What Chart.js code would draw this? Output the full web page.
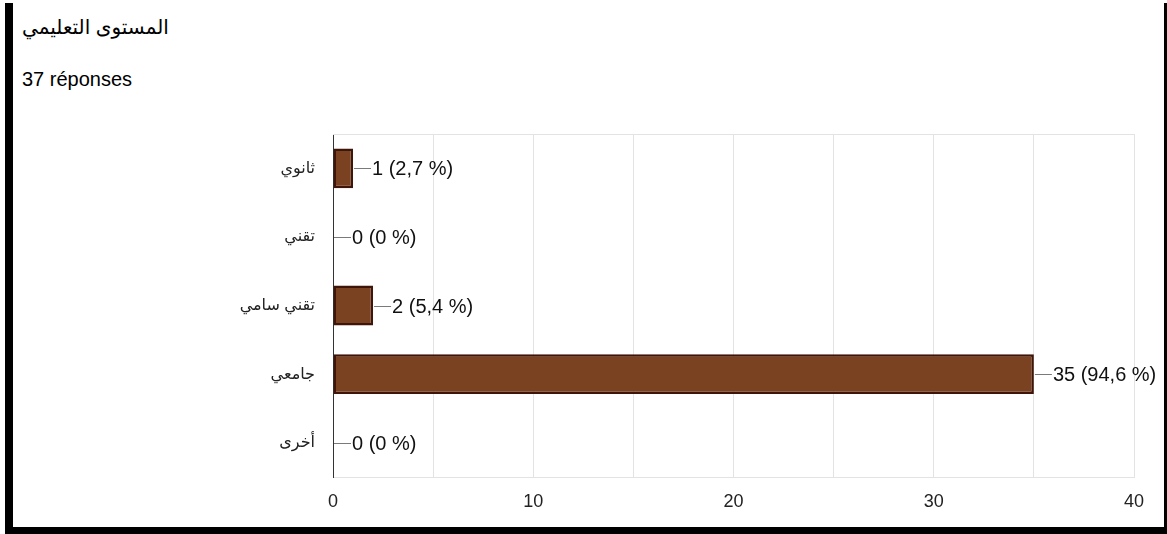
<!DOCTYPE html>
<html>
<head>
<meta charset="utf-8">
<script src="https://cdn.jsdelivr.net/npm/chart.js@4"></script>
<style>
  html, body { margin: 0; padding: 0; background: #fff; }
  body { width: 1167px; height: 534px; position: relative; overflow: hidden; font-family: "Liberation Sans", Arial, "DejaVu Sans", sans-serif; }
  #frame { position: absolute; left: 5px; top: 3px; width: 1151px; height: 524px;
           border-left: 8px solid #000; border-right: 3px solid #000; border-bottom: 7px solid #000; }
  #title { position: absolute; left: 22px; top: 15px; font-size: 20px; color: #000; direction: rtl; }
  #sub { position: absolute; left: 22px; top: 68px; font-size: 20px; color: #000; }
  #chart { position: absolute; left: 0; top: 0; }
</style>
</head>
<body>
<div id="frame"></div>
<div id="title">المستوى التعليمي</div>
<div id="sub">37 réponses</div>
<canvas id="chart" width="1167" height="534"></canvas>
<script>
// Education level answers
const levels = ['ثانوي', 'تقني', 'تقني سامي', 'جامعي', 'أخرى'];
const counts = [1, 0, 2, 35, 0];
const xTicks = [0, 10, 20, 30, 40];
const responses = 37;

const FONT = '"Liberation Sans", Arial, "DejaVu Sans", sans-serif';

function pctText(v) {
    if (v === 0) return '0';
    return (v / responses * 100).toFixed(1).replace('.', ',');
}

// leader line + "n (p %)" to the right of each bar
const barLabels = {
    id: 'barLabels',
    afterDatasetsDraw(chart) {
        const ctx = chart.ctx;
        const meta = chart.getDatasetMeta(0);
        ctx.save();
        ctx.font = '20px ' + FONT;
        ctx.textBaseline = 'middle';
        ctx.textAlign = 'left';
        meta.data.forEach((bar, i) => {
            const v = counts[i];
            const x0 = bar.x + 1;
            const y = Math.round(bar.y) + 0.5;
            ctx.strokeStyle = '#7a7a7a';
            ctx.lineWidth = 1;
            ctx.beginPath();
            ctx.moveTo(x0, y);
            ctx.lineTo(x0 + 17, y);
            ctx.stroke();
            ctx.fillStyle = '#111';
            ctx.fillText(`${v} (${pctText(v)} %)`, x0 + 18, y + 1);
        });
        ctx.restore();
    }
};

// top edge of the plot area
const frameLines = {
    id: 'frameLines',
    beforeDatasetsDraw(chart) {
        const { ctx, chartArea: a } = chart;
        ctx.save();
        ctx.strokeStyle = '#e3e3e3';
        ctx.lineWidth = 1;
        ctx.beginPath();
        ctx.moveTo(a.left, a.top + 0.5);
        ctx.lineTo(a.right, a.top + 0.5);
        ctx.stroke();
        ctx.restore();
    }
};

new Chart(document.getElementById('chart'), {
    type: 'bar',
    data: {
        labels: levels,
        datasets: [{
            data: counts,
            backgroundColor: '#7b4221',
            borderColor: '#3f1409',
            borderWidth: ctx => counts[ctx.dataIndex] === 0 ? 0 : 2.5,
            borderSkipped: false,
            barPercentage: 0.58,
            categoryPercentage: 1
        }]
    },
    options: {
        indexAxis: 'y',
        responsive: false,
        animation: false,
        devicePixelRatio: 1,
        layout: { padding: { left: 13, top: 134, right: 33, bottom: 17 } },
        plugins: { legend: { display: false }, tooltip: { enabled: false } },
        scales: {
            x: {
                min: xTicks[0],
                max: xTicks[xTicks.length - 1],
                ticks: {
                    stepSize: 5,
                    autoSkip: false,
                    maxRotation: 0,
                    color: '#222',
                    padding: 14,
                    font: { size: 18, family: FONT },
                    callback: v => xTicks.includes(v) ? String(v) : ''
                },
                grid: { color: '#e3e3e3', drawTicks: false },
                border: { color: '#e3e3e3' },
                afterFit: s => { s.height = 40; }
            },
            y: {
                ticks: {
                    color: '#222',
                    padding: 18,
                    font: { size: 16, family: FONT }
                },
                grid: { display: false, drawTicks: false },
                border: { color: '#333', width: 1 },
                afterFit: s => { s.width = 320; }
            }
        }
    },
    plugins: [frameLines, barLabels]
});
</script>
</body>
</html>
